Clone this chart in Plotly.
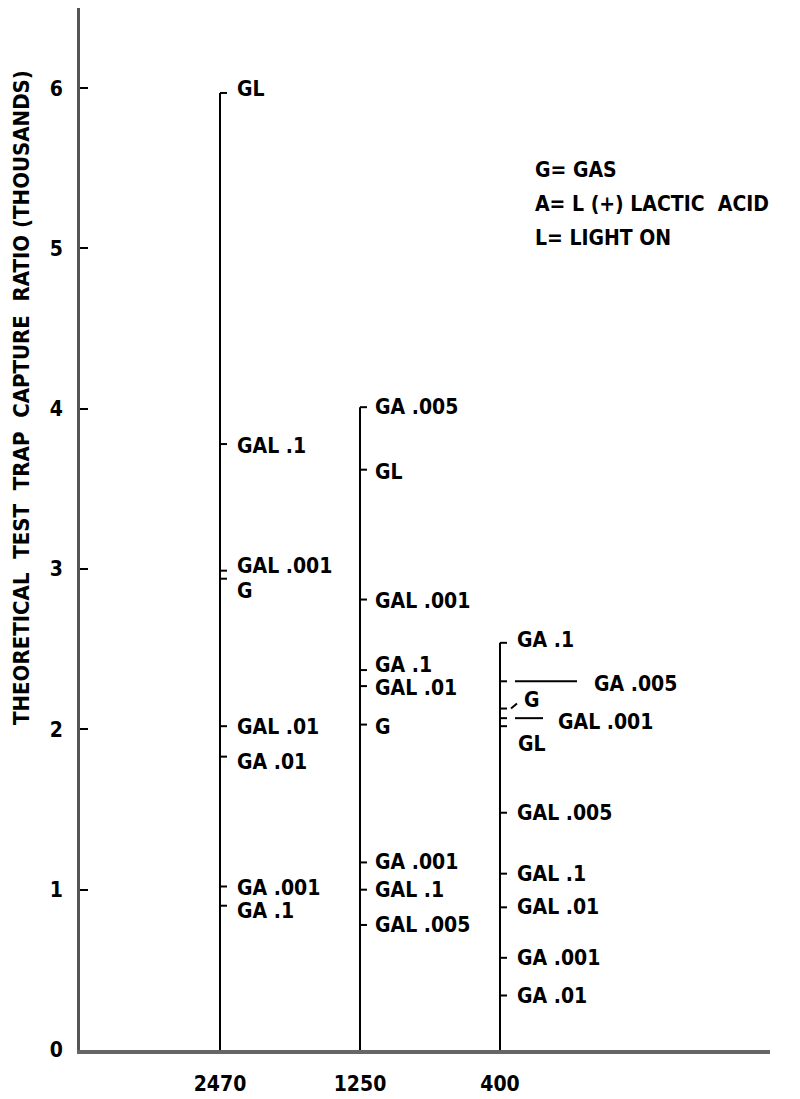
import plotly.graph_objects as go

# ---------------- data ----------------
categories = ["2470", "1250", "400"]

labels_2470 = ["GL", "GAL .1", "GAL .001", "G", "GAL .01", "GA .01", "GA .001", "GA .1"]
values_2470 = [5.97, 3.78, 2.99, 2.94, 2.02, 1.83, 1.02, 0.90]

labels_1250 = ["GA .005", "GL", "GAL .001", "GA .1", "GAL .01", "G", "GA .001", "GAL .1", "GAL .005"]
values_1250 = [4.01, 3.62, 2.81, 2.37, 2.27, 2.03, 1.17, 1.00, 0.78]

labels_400 = ["GA .1", "GA .005", "G", "GAL .001", "GL", "GAL .005", "GAL .1", "GAL .01", "GA .001", "GA .01"]
values_400 = [2.54, 2.30, 2.13, 2.07, 2.02, 1.48, 1.10, 0.89, 0.575, 0.34]

y_ticks = [0, 1, 2, 3, 4, 5, 6]
legend_lines = ["G= GAS", "A= L (+) LACTIC&nbsp; ACID", "L= LIGHT ON"]
y_title = "THEORETICAL&nbsp; TEST&nbsp; TRAP&nbsp; CAPTURE&nbsp; RATIO (THOUSANDS)"

# ---------------- styling (label offsets in pixels) ----------------
FONT = "DejaVu Sans Condensed, Liberation Sans Narrow, DejaVu Sans, sans-serif"
FS = 21
label_yshift = {
    "2470": [4, -2, 5, -12, -1, -5, -2, -5],
    "1250": [0, -2, -1, 5, -2, -2, 0, 0, 0],
    "400": [3, -3, 9, -4, -18, 0, 0, 0, 0, 0],
}
label_xshift = {
    "2470": [15] * 8,
    "1250": [13] * 9,
    "400": [15, 92, 22, 56, 16, 15, 15, 15, 15, 15],
}

columns = [
    (1, "2470", labels_2470, values_2470),
    (2, "1250", labels_1250, values_1250),
    (3, "400", labels_400, values_400),
]

fig = go.Figure()
shapes = []
annotations = []

def tfont(size=FS):
    return dict(family=FONT, size=size, color="black", weight="bold")

for xpos, cat, labs, vals in columns:
    fig.add_trace(go.Scatter(x=[xpos, xpos], y=[0, max(vals)], mode="lines",
                             line=dict(color="black", width=2), showlegend=False,
                             hoverinfo="skip"))
    for i, (lab, v) in enumerate(zip(labs, vals)):
        shapes.append(dict(type="line", xref="x", yref="y", xsizemode="pixel",
                           xanchor=xpos, x0=0, x1=7, y0=v, y1=v,
                           line=dict(color="black", width=2)))
        annotations.append(dict(x=xpos, y=v, xref="x", yref="y", text=lab,
                                showarrow=False, xanchor="left", yanchor="middle",
                                xshift=label_xshift[cat][i], yshift=label_yshift[cat][i],
                                font=tfont()))

# connector lines for crowded labels on the 400 column
v_ga005 = values_400[1]
v_g = values_400[2]
v_gal001 = values_400[3]
shapes.append(dict(type="line", xref="x", yref="y", xsizemode="pixel", xanchor=3,
                   x0=15, x1=77, y0=v_ga005, y1=v_ga005, line=dict(color="black", width=2)))
shapes.append(dict(type="line", xref="x", yref="y", xsizemode="pixel", xanchor=3,
                   ysizemode="pixel", yanchor=v_g, x0=11, x1=17, y0=0, y1=5,
                   line=dict(color="black", width=2)))
shapes.append(dict(type="line", xref="x", yref="y", xsizemode="pixel", xanchor=3,
                   x0=15, x1=43, y0=v_gal001, y1=v_gal001, line=dict(color="black", width=2)))

W, H = 800, 1099
L, R, T, B = 80, 30, 8, 49
pw, ph = W - L - R, H - T - B

for i, t in enumerate(legend_lines):
    annotations.append(dict(x=(533 - L) / pw, y=(H - B - (170 + 34 * i)) / ph,
                            xref="paper", yref="paper", text=t,
                            showarrow=False, xanchor="left", yanchor="middle",
                            font=tfont()))

annotations.append(dict(x=0, y=(H - B - 398) / ph, xref="paper", yref="paper",
                        text=y_title, textangle=-90, showarrow=False,
                        xanchor="center", yanchor="middle", xshift=-58,
                        font=tfont(22)))

fig.update_layout(
    width=W, height=H,
    margin=dict(l=L, r=R, t=T, b=B, autoexpand=False),
    paper_bgcolor="white", plot_bgcolor="white",
    shapes=shapes, annotations=annotations,
    showlegend=False,
    xaxis=dict(range=[0, pw / 140], tickvals=[1, 2, 3], ticktext=categories,
               showgrid=False, zeroline=False, showline=True, linecolor="#666",
               linewidth=4, ticks="", ticklabelstandoff=12, automargin=False,
               tickfont=tfont()),
    yaxis=dict(range=[0, 6.5], tickvals=y_ticks, showgrid=False, zeroline=False,
               showline=True, linecolor="#555", linewidth=3, ticks="inside",
               ticklen=8, tickwidth=2, tickcolor="black", ticklabelstandoff=10,
               automargin=False, tickfont=tfont()),
)

fig.write_html("out.html", config={"displayModeBar": False},
               post_script="document.body.style.margin='0';")
